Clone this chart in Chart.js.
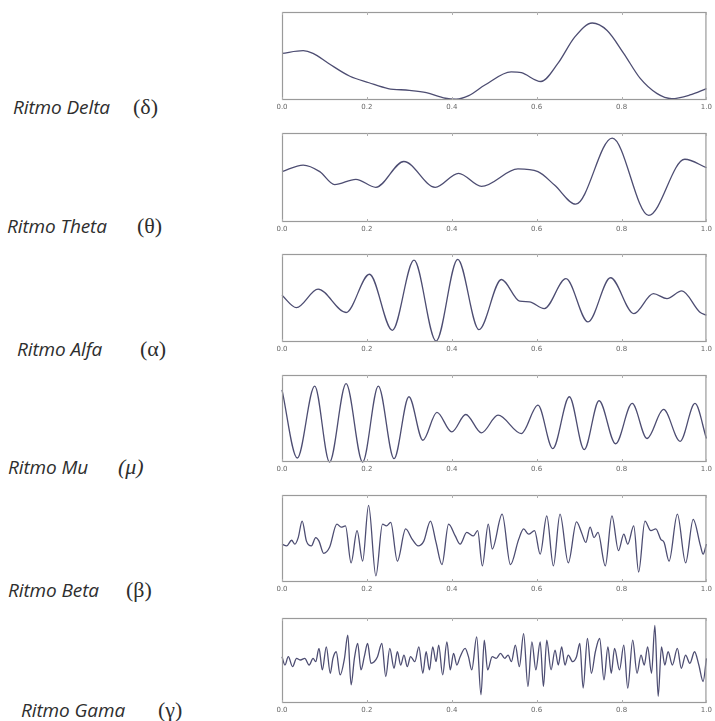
<!DOCTYPE html>
<html>
<head>
<meta charset="utf-8">
<script src="https://cdn.jsdelivr.net/npm/chart.js@4.4.1/dist/chart.umd.min.js"></script>
<style>
  body { margin: 0; background: #fff; width: 715px; height: 721px; position: relative; overflow: hidden; }
  canvas { position: absolute; }
  .name { position: absolute; font-family: "Open Sans", Lato, sans-serif; font-style: italic; font-size: 19px; color: #2e2e2e; transform: translateY(-50%); white-space: nowrap; letter-spacing: -0.1px; }
  .sym { position: absolute; font-family: "Liberation Serif", serif; font-size: 22px; color: #2e2e2e; transform: translateY(-50%); white-space: nowrap; }
</style>
</head>
<body>
<script>
// Data (x in 0..1, y normalised to the panel box)
const deltaX = [0, 0.05, 0.073, 0.11, 0.16, 0.205, 0.25, 0.30, 0.34, 0.385, 0.41, 0.44, 0.478, 0.54, 0.564, 0.61, 0.65, 0.69, 0.731, 0.766, 0.805, 0.844, 0.883, 0.918, 0.961, 1.0];
const deltaY = [0.53, 0.56, 0.53, 0.415, 0.27, 0.196, 0.13, 0.11, 0.083, 0.02, 0.01, 0.05, 0.17, 0.32, 0.31, 0.21, 0.415, 0.717, 0.875, 0.79, 0.53, 0.245, 0.075, 0.015, 0.057, 0.13];

const thetaX = [0, 0.05, 0.089, 0.124, 0.174, 0.221, 0.287, 0.361, 0.416, 0.47, 0.556, 0.603, 0.642, 0.692, 0.778, 0.864, 0.949, 1.0];
const thetaY = [0.566, 0.64, 0.566, 0.42, 0.48, 0.39, 0.68, 0.39, 0.547, 0.40, 0.596, 0.566, 0.415, 0.2, 0.943, 0.075, 0.705, 0.61];

const alfaX = [0, 0.034, 0.085, 0.151, 0.206, 0.26, 0.311, 0.363, 0.414, 0.464, 0.517, 0.56, 0.583, 0.618, 0.669, 0.721, 0.774, 0.829, 0.875, 0.907, 0.942, 0.984, 1.0];
const alfaY = [0.53, 0.39, 0.60, 0.335, 0.77, 0.133, 0.93, 0.011, 0.94, 0.14, 0.71, 0.464, 0.456, 0.38, 0.72, 0.228, 0.73, 0.323, 0.55, 0.494, 0.58, 0.342, 0.304];

const muX = [0, 0.036, 0.077, 0.112, 0.151, 0.19, 0.227, 0.264, 0.299, 0.332, 0.365, 0.40, 0.433, 0.47, 0.509, 0.564, 0.603, 0.638, 0.677, 0.712, 0.747, 0.786, 0.825, 0.86, 0.899, 0.938, 0.973, 1.0];
const muY = [0.83, 0.046, 0.873, 0.0, 0.90, 0.0, 0.873, 0.038, 0.75, 0.25, 0.57, 0.346, 0.546, 0.335, 0.538, 0.327, 0.654, 0.154, 0.75, 0.142, 0.704, 0.21, 0.673, 0.27, 0.604, 0.238, 0.673, 0.27];

const betaX = [0, 0.0109, 0.0226, 0.0304, 0.0382, 0.0475, 0.0576, 0.0693, 0.0794, 0.0872, 0.0981, 0.1121, 0.1293, 0.1394, 0.1495, 0.1628, 0.1768, 0.19, 0.204, 0.2212, 0.2368, 0.2461, 0.2562, 0.2718, 0.2913, 0.3069, 0.3209, 0.3341, 0.3497, 0.3629, 0.3769, 0.3925, 0.4081, 0.4198, 0.4353, 0.4509, 0.461, 0.472, 0.486, 0.4953, 0.5187, 0.5382, 0.5576, 0.5693, 0.581, 0.595, 0.6083, 0.6238, 0.6394, 0.655, 0.6745, 0.6939, 0.7056, 0.7157, 0.7259, 0.7352, 0.7445, 0.7617, 0.7773, 0.7928, 0.8053, 0.8146, 0.8287, 0.8403, 0.8551, 0.8692, 0.8808, 0.8925, 0.9003, 0.912, 0.9315, 0.951, 0.9688, 0.986, 0.9922, 1.0];
const betaY = [0.435, 0.415, 0.48, 0.435, 0.51, 0.70, 0.47, 0.415, 0.51, 0.47, 0.33, 0.40, 0.665, 0.63, 0.645, 0.22, 0.59, 0.24, 0.88, 0.07, 0.665, 0.645, 0.685, 0.24, 0.61, 0.49, 0.415, 0.47, 0.70, 0.455, 0.20, 0.665, 0.53, 0.435, 0.57, 0.53, 0.59, 0.185, 0.665, 0.38, 0.78, 0.20, 0.49, 0.61, 0.55, 0.59, 0.32, 0.76, 0.185, 0.78, 0.22, 0.69, 0.57, 0.455, 0.63, 0.51, 0.57, 0.185, 0.76, 0.36, 0.55, 0.435, 0.645, 0.115, 0.70, 0.59, 0.61, 0.49, 0.455, 0.24, 0.78, 0.22, 0.72, 0.415, 0.32, 0.435];

const gamaX = [0, 0.007, 0.0148, 0.0249, 0.0343, 0.0436, 0.0537, 0.0639, 0.0732, 0.0794, 0.0872, 0.095, 0.1044, 0.1137, 0.12, 0.1277, 0.137, 0.1472, 0.155, 0.1628, 0.1706, 0.1783, 0.1861, 0.1939, 0.2017, 0.2095, 0.2173, 0.225, 0.2352, 0.2445, 0.2539, 0.264, 0.2718, 0.2796, 0.2874, 0.2952, 0.3029, 0.313, 0.3224, 0.3318, 0.3396, 0.3474, 0.3551, 0.3629, 0.3692, 0.3785, 0.3886, 0.3964, 0.4042, 0.412, 0.4198, 0.4315, 0.4393, 0.4471, 0.4587, 0.4688, 0.4766, 0.4844,
  0.4953, 0.5047, 0.5148, 0.525, 0.5327, 0.5405, 0.5498, 0.5592, 0.5693, 0.5794, 0.5888, 0.5981, 0.6083, 0.616, 0.6238, 0.6339, 0.6433, 0.651, 0.6589, 0.6667, 0.6745, 0.6846, 0.6939, 0.7017, 0.7095, 0.7196, 0.729, 0.7383, 0.7484, 0.7586, 0.7679, 0.7757, 0.7835, 0.7952, 0.8053, 0.8146, 0.8263, 0.8365, 0.8458, 0.8536, 0.8614, 0.8707, 0.8785, 0.8863, 0.8941, 0.9019, 0.9097, 0.9198, 0.9315, 0.9408, 0.9509, 0.961, 0.972, 0.9821, 0.9922, 1.0];
const gamaY = [0.545, 0.447, 0.545, 0.428, 0.525, 0.506, 0.525, 0.447, 0.525, 0.486, 0.642, 0.389, 0.661, 0.35, 0.525, 0.603, 0.331, 0.525, 0.798, 0.214, 0.525, 0.70, 0.389, 0.545, 0.70, 0.467, 0.486, 0.545, 0.70, 0.311, 0.642, 0.409, 0.603, 0.447, 0.564, 0.428, 0.545, 0.486, 0.661, 0.35, 0.603, 0.389, 0.661, 0.486, 0.681, 0.331, 0.72, 0.389, 0.584, 0.447, 0.545, 0.642, 0.545, 0.389, 0.778, 0.097, 0.739, 0.389,
  0.545, 0.525, 0.584, 0.525, 0.564, 0.486, 0.681, 0.428, 0.817, 0.195, 0.72, 0.389, 0.72, 0.195, 0.739, 0.389, 0.623, 0.447, 0.661, 0.447, 0.564, 0.486, 0.545, 0.70, 0.175, 0.759, 0.35, 0.603, 0.759, 0.272, 0.661, 0.35, 0.642, 0.389, 0.681, 0.175, 0.739, 0.35, 0.564, 0.447, 0.661, 0.35, 0.914, 0.078, 0.661, 0.447, 0.603, 0.447, 0.642, 0.409, 0.564, 0.467, 0.603, 0.447, 0.253, 0.525];

const tickVals = [0, 0.2, 0.4, 0.6, 0.8, 1.0];
const tickLabels = ['0.0', '0.2', '0.4', '0.6', '0.8', '1.0'];

const names = ['Ritmo Delta', 'Ritmo Theta', 'Ritmo Alfa', 'Ritmo Mu', 'Ritmo Beta', 'Ritmo Gama'];
const symbols = ['δ', 'θ', 'α', 'μ', 'β', 'γ'];

// layout (pixels)
const series = [[deltaX, deltaY], [thetaX, thetaY], [alfaX, alfaY], [muX, muY], [betaX, betaY], [gamaX, gamaY]];
const boxTop = [12, 133, 254, 375, 495, 618];
const boxH = [88, 89, 88, 87, 87, 85];
const nameLeft = [13, 7, 17, 8, 8, 21];
const symLeft = [133, 137, 140, 118, 126, 158];
const labelMid = [107, 226, 349, 467, 590, 710];

// full rectangle + little inner ticks like matplotlib
const boxPlugin = {
  id: 'box',
  afterDraw(chart) {
    const { ctx, chartArea: a, scales } = chart;
    ctx.save();
    ctx.strokeStyle = '#9a9a9a';
    ctx.lineWidth = 1.2;
    ctx.strokeRect(a.left + 0.5, a.top + 0.5, a.right - a.left - 1, a.bottom - a.top - 1);
    ctx.lineWidth = 1;
    ctx.strokeStyle = '#b0b0b0';
    tickVals.forEach(v => {
      const px = Math.round(scales.x.getPixelForValue(v)) + 0.5;
      ctx.beginPath();
      ctx.moveTo(px, a.top); ctx.lineTo(px, a.top + 3);
      ctx.moveTo(px, a.bottom); ctx.lineTo(px, a.bottom - 3);
      ctx.stroke();
    });
    ctx.restore();
  }
};

series.forEach((s, i) => {
  const cv = document.createElement('canvas');
  const w = 445, h = 2 + boxH[i] + 12;
  cv.width = w; cv.height = h;
  cv.style.left = '270px';
  cv.style.top = (boxTop[i] - 2) + 'px';
  cv.style.width = w + 'px'; cv.style.height = h + 'px';
  document.body.appendChild(cv);

  const pts = s[0].map((x, k) => ({ x: x, y: s[1][k] }));

  new Chart(cv.getContext('2d'), {
    type: 'line',
    data: {
      datasets: [{
        data: pts,
        borderColor: '#4d4d72',
        borderWidth: 1.3,
        pointRadius: 0,
        cubicInterpolationMode: 'monotone',
        fill: false,
        clip: false
      }]
    },
    options: {
      responsive: false,
      animation: false,
      layout: { padding: { left: 12, right: 5, top: 2, bottom: 0 } },
      plugins: { legend: { display: false }, tooltip: { enabled: false } },
      scales: {
        x: {
          type: 'linear', min: 0, max: 1,
          grid: { display: false, drawTicks: false },
          border: { display: false },
          afterBuildTicks: sc => { sc.ticks = tickVals.map(v => ({ value: v })); },
          afterFit: sc => { sc.height = 12; },
          ticks: {
            font: { size: 7, family: 'DejaVu Sans' },
            color: '#666',
            padding: 3,
            maxRotation: 0,
            autoSkip: false,
            callback: (v, idx) => tickLabels[idx]
          }
        },
        y: { display: false, min: 0, max: 1 }
      }
    },
    plugins: [boxPlugin]
  });

  const n = document.createElement('div');
  n.className = 'name';
  n.textContent = names[i];
  n.style.left = nameLeft[i] + 'px';
  n.style.top = labelMid[i] + 'px';
  document.body.appendChild(n);

  const g = document.createElement('div');
  g.className = 'sym';
  g.textContent = '(' + symbols[i] + ')';
  if (symbols[i] === 'μ') g.style.fontStyle = 'italic';
  g.style.left = symLeft[i] + 'px';
  g.style.top = labelMid[i] + 'px';
  document.body.appendChild(g);
});
</script>
</body>
</html>
